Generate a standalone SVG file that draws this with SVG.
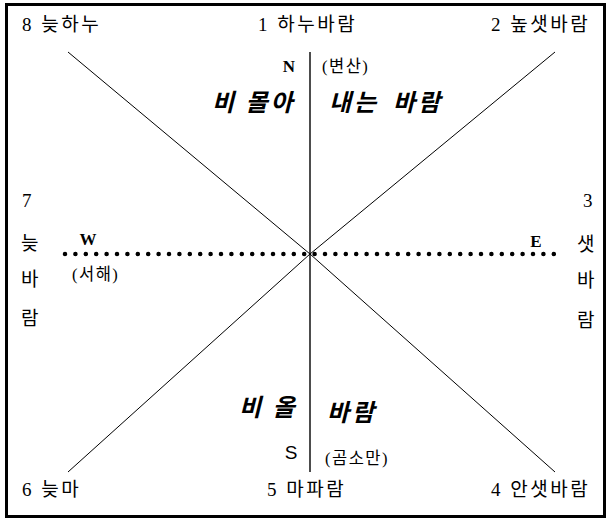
<svg xmlns="http://www.w3.org/2000/svg" width="607" height="520" viewBox="0 0 607 520">
<style>
.lbl{font-family:"Liberation Serif","Noto Sans CJK KR",serif;font-size:19px;letter-spacing:2.5px;fill:#000}
.par{font-family:"Liberation Serif","Noto Sans CJK KR",serif;font-size:16.5px;letter-spacing:1.5px;fill:#000}
.dir{font-family:"Liberation Serif","Noto Sans CJK KR",serif;font-size:17px;font-weight:bold;fill:#000;text-anchor:middle}
.big{font-family:"Noto Sans CJK KR",sans-serif;font-size:24px;font-weight:bold;font-style:italic;letter-spacing:3px;fill:#000}
.ln{stroke:#000;fill:none}
</style>
<rect x="6.5" y="4.5" width="598" height="512" fill="#fff" stroke="#000" stroke-width="3"/>
<g id="connectors">
<line class="ln" x1="310" y1="52" x2="310" y2="472" stroke-width="1.4"/>
<line class="ln" x1="68" y1="52" x2="310" y2="254" stroke-width="1"/>
<line class="ln" x1="310" y1="254" x2="555" y2="472" stroke-width="1"/>
<line class="ln" x1="555" y1="52" x2="310" y2="254" stroke-width="1"/>
<line class="ln" x1="310" y1="254" x2="68" y2="472" stroke-width="1"/>
<path class="ln" d="M65 254H554" stroke-width="4.5" stroke-linecap="round" stroke-dasharray="0 10.4"/>
</g>
<g id="n8"><text class="lbl" x="22" y="31">8 늦하누</text></g>
<g id="n1"><text class="lbl" x="258" y="31">1 하누바람</text></g>
<g id="n2"><text class="lbl" x="491" y="31">2 높샛바람</text></g>
<g id="n7"><text class="lbl" x="22" y="207">7</text><text class="lbl" x="21" y="250">늦</text><text class="lbl" x="21" y="286">바</text><text class="lbl" x="21" y="325">람</text></g>
<g id="n3"><text class="lbl" x="583" y="207">3</text><text class="lbl" x="577" y="251">샛</text><text class="lbl" x="577" y="287">바</text><text class="lbl" x="577" y="327">람</text></g>
<g id="n6"><text class="lbl" x="22" y="496">6 늦마</text></g>
<g id="n5"><text class="lbl" x="267" y="496">5 마파람</text></g>
<g id="n4"><text class="lbl" x="491" y="496">4 안샛바람</text></g>
<g id="north"><text class="dir" x="289" y="72">N</text><text class="par" x="322" y="72">(변산)</text></g>
<g id="west"><text class="dir" x="88" y="245">W</text><text class="par" x="72" y="280">(서해)</text></g>
<g id="east"><text class="dir" x="536" y="247">E</text></g>
<g id="south"><text x="291" y="459" style="font-family:'Liberation Sans',sans-serif;font-size:19px;text-anchor:middle">S</text><text class="par" x="325" y="464">(곰소만)</text></g>
<g id="top-title"><text class="big" x="212" y="111">비 몰아</text><text class="big" x="329" y="111">내는 <tspan x="393">바람</tspan></text></g>
<g id="bottom-title"><text class="big" x="239" y="416">비 올</text><text class="big" x="327" y="421">바람</text></g>
</svg>
